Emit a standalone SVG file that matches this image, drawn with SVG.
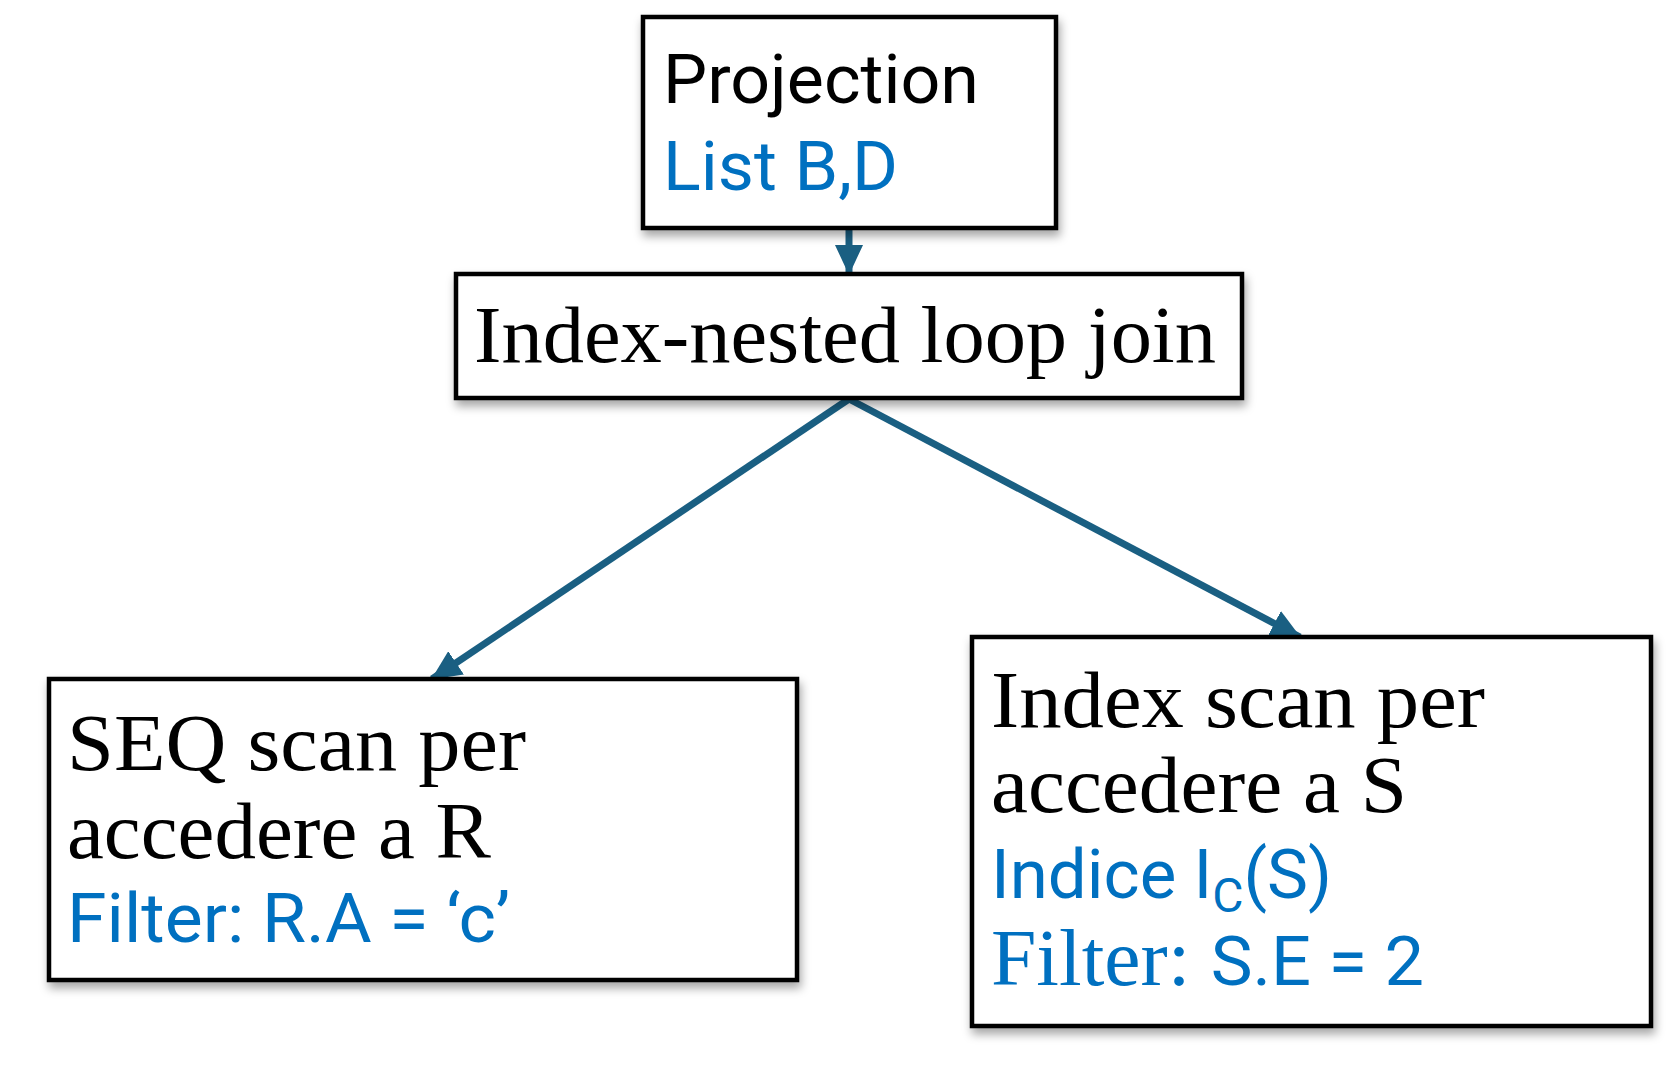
<svg xmlns="http://www.w3.org/2000/svg" width="1672" height="1077" viewBox="0 0 1672 1077">
<style>
.box{fill:#fff;stroke:#000;stroke-width:4.5;filter:url(#sh)}
.serif{font-family:"Liberation Serif","Times New Roman",serif;font-size:80px;fill:#000}
.sans{font-family:Roboto,"Liberation Sans",sans-serif;font-size:69px;fill:#000}
.blue{fill:#0070c0}
.conn{stroke:#1a5f82;stroke-width:7;fill:none;marker-end:url(#ah)}
</style>
<defs>
<filter id="sh" x="-10%" y="-10%" width="125%" height="130%">
<feDropShadow dx="2" dy="6" stdDeviation="5" flood-color="#000" flood-opacity="0.35"/>
</filter>
<marker id="ah" markerUnits="userSpaceOnUse" markerWidth="30" markerHeight="28" refX="29" refY="14" orient="auto">
<path d="M0,0 L30,14 L0,28 z" fill="#1a5f82"/>
</marker>
</defs>
<rect width="1672" height="1077" fill="#fff"/>
<g id="connectors">
<line class="conn" x1="849" y1="228" x2="849" y2="274"/>
<line class="conn" x1="849" y1="399" x2="432" y2="679"/>
<line class="conn" x1="849" y1="399" x2="1300" y2="637"/>
</g>
<g id="projection">
<rect class="box" x="643" y="17" width="413" height="211"/>
<text class="sans" x="663" y="103" textLength="316" lengthAdjust="spacingAndGlyphs">Projection</text>
<text class="sans blue" x="663" y="190" textLength="235" lengthAdjust="spacingAndGlyphs">List B,D</text>
</g>
<g id="join">
<rect class="box" x="456" y="274" width="786" height="124"/>
<text class="serif" x="474" y="362" textLength="742" lengthAdjust="spacingAndGlyphs">Index-nested loop join</text>
</g>
<g id="seqscan">
<rect class="box" x="49" y="679" width="748" height="301"/>
<text class="serif" x="67" y="770" textLength="459" lengthAdjust="spacingAndGlyphs">SEQ scan per</text>
<text class="serif" x="67" y="858" textLength="424" lengthAdjust="spacingAndGlyphs">accedere a R</text>
<text class="sans blue" x="67" y="942" textLength="443" lengthAdjust="spacingAndGlyphs">Filter: R.A = ‘c’</text>
</g>
<g id="indexscan">
<rect class="box" x="972" y="637" width="679" height="389"/>
<text class="serif" x="991" y="727" textLength="494" lengthAdjust="spacingAndGlyphs">Index scan per</text>
<text class="serif" x="991" y="812" textLength="416" lengthAdjust="spacingAndGlyphs">accedere a S</text>
<text class="sans blue" x="991" y="898">Indice I<tspan font-size="48" dy="14">C</tspan><tspan dy="-14">(S)</tspan></text>
<text class="blue" x="991" y="985" textLength="433" lengthAdjust="spacingAndGlyphs"><tspan class="serif blue">Filter: </tspan><tspan class="sans blue">S.E = 2</tspan></text>
</g>
</svg>
